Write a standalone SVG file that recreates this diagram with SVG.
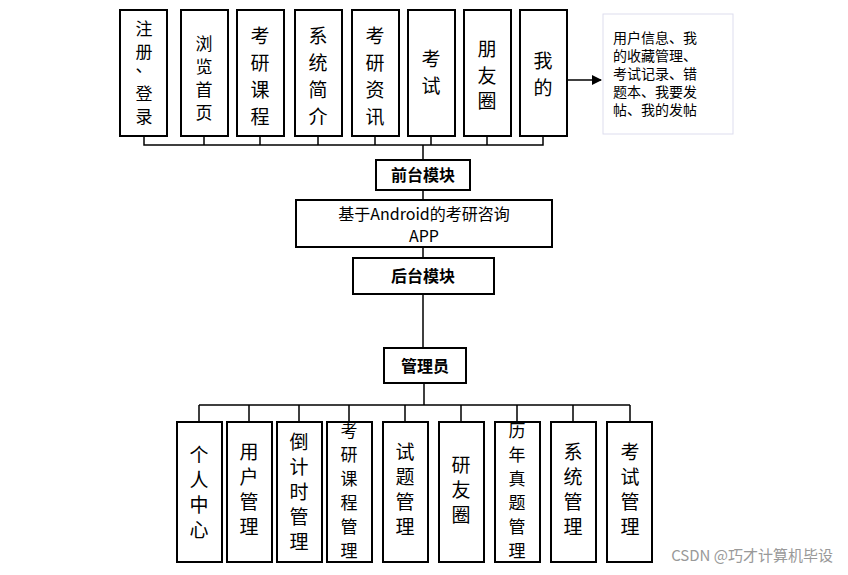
<svg xmlns="http://www.w3.org/2000/svg" width="848" height="575" viewBox="0 0 848 575">
<style>
.b{fill:#fff;stroke:#000;stroke-width:2}
.t{font-family:"Noto Sans CJK SC","Liberation Serif",serif;font-size:19px;text-anchor:middle;fill:#000}
.u{font-family:"Noto Sans CJK SC",sans-serif;font-size:17px;text-anchor:middle;fill:#000}
.s{font-family:"Noto Sans CJK SC",sans-serif;font-size:16px;font-weight:bold;text-anchor:middle}
.i{font-family:"Noto Sans CJK SC",sans-serif;font-size:14px}
.l{stroke:#000;stroke-width:1.5;fill:none}
</style>
<defs><marker id="a" markerWidth="10" markerHeight="10" refX="9" refY="5" orient="auto" markerUnits="userSpaceOnUse"><path d="M0,0L10,5L0,10z"/></marker></defs>
<rect x="0" y="0" width="848" height="575" fill="#fff"/>
<g id="connectors" class="l">
<path d="M144,136V145H543V136M204,136V145M260,136V145M318,136V145M375,136V145M431,136V145M487,136V145M423,145V160M423,190V200M423,247V258M423,294V348M424,383V405M199,405H630M199,405V422M249,405V422M299,405V422M349,405V422M405,405V422M461,405V422M517,405V422M573,405V422M630,405V422"/>
<path d="M567,80H601" marker-end="url(#a)"/>
</g>
<g id="top">
<g><rect class="b" x="120" y="10" width="47" height="126"/><text class="u"><tspan x="144" y="35">注</tspan><tspan x="144" y="58">册</tspan><tspan x="144" y="72">、</tspan><tspan x="144" y="100">登</tspan><tspan x="144" y="123">录</tspan></text></g>
<g><rect class="b" x="181" y="10" width="47" height="126"/><text class="u"><tspan x="204" y="50">浏</tspan><tspan x="204" y="73">览</tspan><tspan x="204" y="96">首</tspan><tspan x="204" y="119">页</tspan></text></g>
<g><rect class="b" x="237" y="10" width="47" height="126"/><text class="t"><tspan x="260" y="43">考</tspan><tspan x="260" y="70">研</tspan><tspan x="260" y="97">课</tspan><tspan x="260" y="124">程</tspan></text></g>
<g><rect class="b" x="295" y="10" width="47" height="126"/><text class="t"><tspan x="318" y="43">系</tspan><tspan x="318" y="70">统</tspan><tspan x="318" y="97">简</tspan><tspan x="318" y="124">介</tspan></text></g>
<g><rect class="b" x="352" y="10" width="47" height="126"/><text class="t"><tspan x="375" y="43">考</tspan><tspan x="375" y="70">研</tspan><tspan x="375" y="97">资</tspan><tspan x="375" y="124">讯</tspan></text></g>
<g><rect class="b" x="408" y="10" width="47" height="126"/><text class="t"><tspan x="431" y="66">考</tspan><tspan x="431" y="93">试</tspan></text></g>
<g><rect class="b" x="464" y="10" width="47" height="126"/><text class="t"><tspan x="487" y="56">朋</tspan><tspan x="487" y="83">友</tspan><tspan x="487" y="108">圈</tspan></text></g>
<g><rect class="b" x="520" y="10" width="47" height="126"/><text class="t"><tspan x="543" y="68">我</tspan><tspan x="543" y="95">的</tspan></text></g>
</g>
<g id="info"><rect x="603" y="14" width="130" height="120" fill="#fff" stroke="#dde" stroke-width="1"/><text class="i"><tspan x="613" y="43">用户信息、我</tspan><tspan x="613" y="61">的收藏管理、</tspan><tspan x="613" y="79">考试记录、错</tspan><tspan x="613" y="97">题本、我要发</tspan><tspan x="613" y="115">帖、我的发帖</tspan></text></g>
<g id="front"><rect class="b" x="376" y="160" width="94" height="30"/><text class="s" x="423" y="181">前台模块</text></g>
<g id="app"><rect class="b" x="296" y="200" width="256" height="47"/><text style="font-family:'Noto Sans CJK SC','Liberation Serif',serif;font-size:16px;text-anchor:middle"><tspan x="424" y="220">基于Android的考研咨询</tspan><tspan x="424" y="242">APP</tspan></text></g>
<g id="back"><rect class="b" x="353" y="258" width="141" height="36"/><text class="s" x="423" y="282">后台模块</text></g>
<g id="admin"><rect class="b" x="384" y="348" width="82" height="35"/><text class="s" x="425" y="372">管理员</text></g>
<g id="bottom">
<g><rect class="b" x="177" y="422" width="45" height="140"/><text class="t"><tspan x="199" y="462">个</tspan><tspan x="199" y="487">人</tspan><tspan x="199" y="512">中</tspan><tspan x="199" y="537">心</tspan></text></g>
<g><rect class="b" x="227" y="422" width="45" height="140"/><text class="t"><tspan x="249" y="459">用</tspan><tspan x="249" y="484">户</tspan><tspan x="249" y="509">管</tspan><tspan x="249" y="534">理</tspan></text></g>
<g><rect class="b" x="277" y="422" width="45" height="140"/><text class="t"><tspan x="299" y="449">倒</tspan><tspan x="299" y="474">计</tspan><tspan x="299" y="499">时</tspan><tspan x="299" y="524">管</tspan><tspan x="299" y="549">理</tspan></text></g>
<g><rect class="b" x="327" y="422" width="45" height="140"/><text class="u"><tspan x="349" y="437">考</tspan><tspan x="349" y="461">研</tspan><tspan x="349" y="485">课</tspan><tspan x="349" y="509">程</tspan><tspan x="349" y="533">管</tspan><tspan x="349" y="557">理</tspan></text></g>
<g><rect class="b" x="383" y="422" width="45" height="140"/><text class="t"><tspan x="405" y="459">试</tspan><tspan x="405" y="484">题</tspan><tspan x="405" y="509">管</tspan><tspan x="405" y="534">理</tspan></text></g>
<g><rect class="b" x="439" y="422" width="45" height="140"/><text class="t"><tspan x="461" y="472">研</tspan><tspan x="461" y="497">友</tspan><tspan x="461" y="522">圈</tspan></text></g>
<g><rect class="b" x="495" y="422" width="45" height="140"/><text class="u"><tspan x="517" y="437">历</tspan><tspan x="517" y="461">年</tspan><tspan x="517" y="485">真</tspan><tspan x="517" y="509">题</tspan><tspan x="517" y="533">管</tspan><tspan x="517" y="557">理</tspan></text></g>
<g><rect class="b" x="551" y="422" width="45" height="140"/><text class="t"><tspan x="573" y="459">系</tspan><tspan x="573" y="484">统</tspan><tspan x="573" y="509">管</tspan><tspan x="573" y="534">理</tspan></text></g>
<g><rect class="b" x="607" y="422" width="45" height="140"/><text class="t"><tspan x="630" y="459">考</tspan><tspan x="630" y="484">试</tspan><tspan x="630" y="509">管</tspan><tspan x="630" y="534">理</tspan></text></g>
</g>
<text x="833" y="561" style="font-family:'Noto Sans CJK SC',sans-serif;font-size:15px;text-anchor:end;fill:#999">CSDN @巧才计算机毕设</text>
</svg>
